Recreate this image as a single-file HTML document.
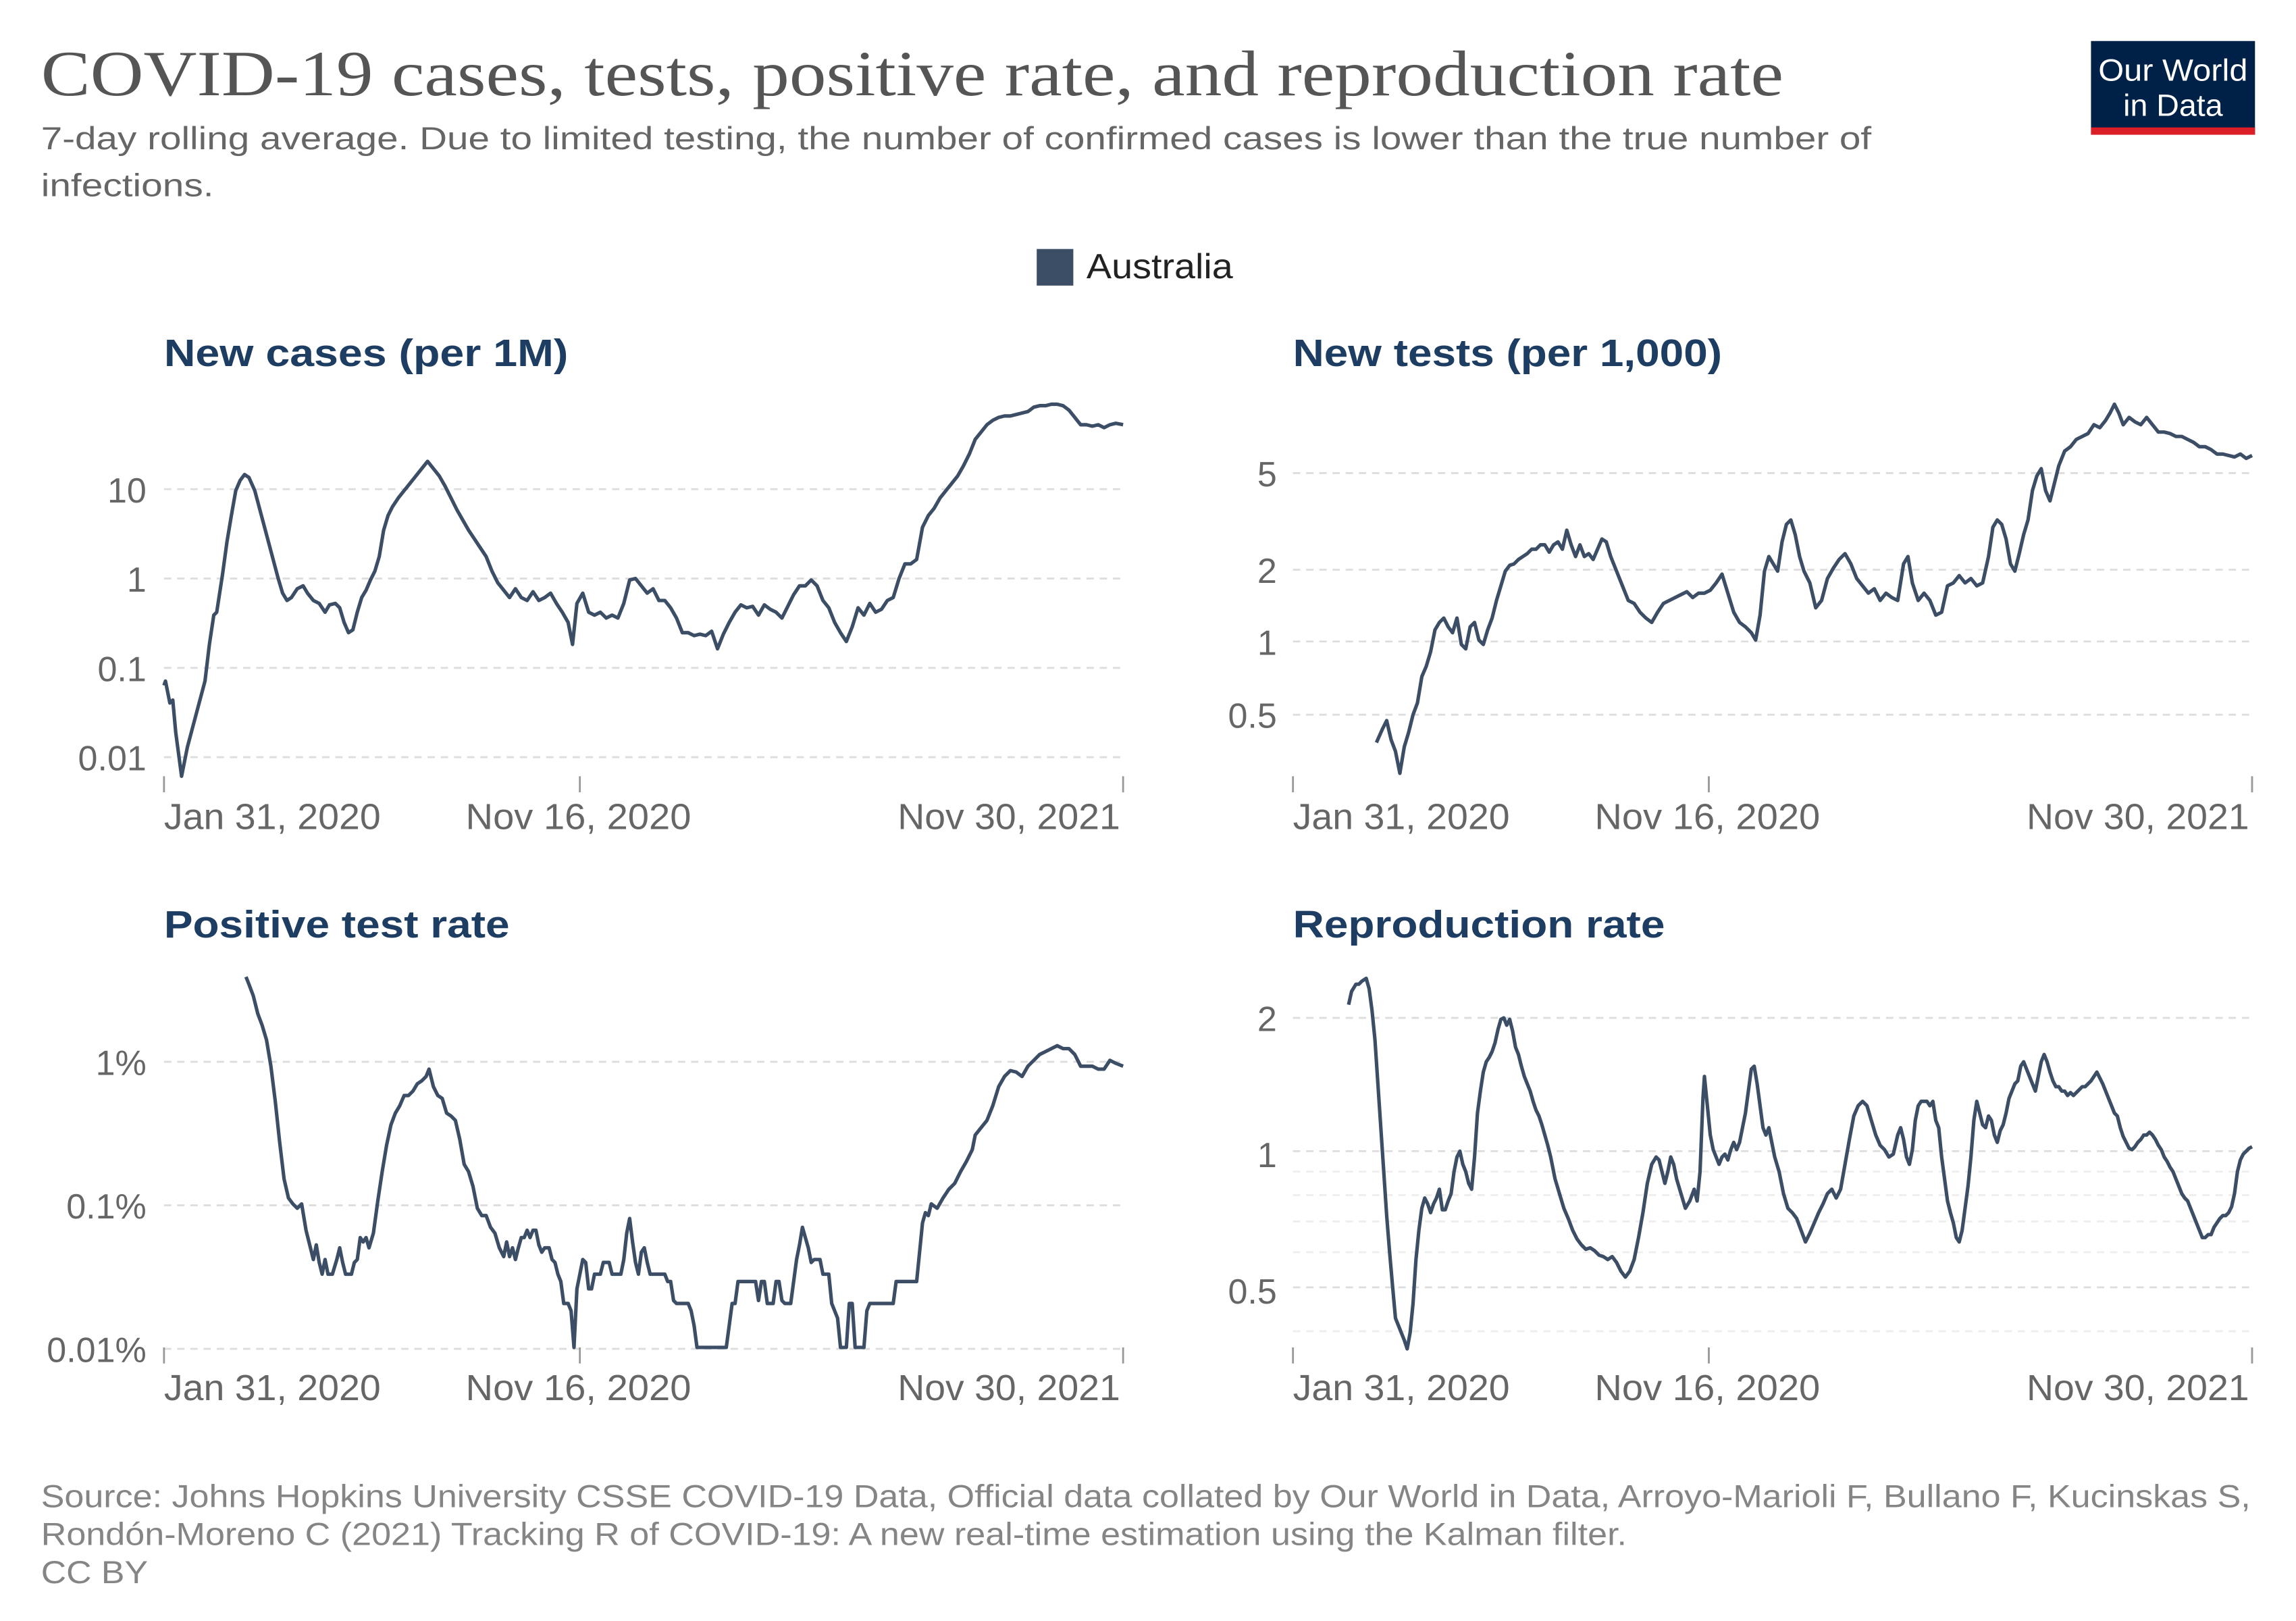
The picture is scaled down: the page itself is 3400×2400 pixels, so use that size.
<!DOCTYPE html>
<html><head><meta charset="utf-8"><style>html,body{margin:0;padding:0;background:#fff}svg{display:block}</style></head>
<body>
<svg width="3400" height="2400" viewBox="0 0 1568 1106.8" xmlns="http://www.w3.org/2000/svg" font-family="Liberation Sans, sans-serif">
<rect width="1568" height="1106.8" fill="#fff"/>
<text x="28" y="65" font-family="Liberation Serif, serif" font-size="44" fill="#555" textLength="1190" lengthAdjust="spacingAndGlyphs">COVID-19 cases, tests, positive rate, and reproduction rate</text>
<text x="28" y="102" font-size="22" fill="#666" textLength="1250" lengthAdjust="spacingAndGlyphs">7-day rolling average. Due to limited testing, the number of confirmed cases is lower than the true number of</text>
<text x="28" y="134" font-size="22" fill="#666" textLength="118" lengthAdjust="spacingAndGlyphs">infections.</text>
<rect x="1428" y="28" width="112" height="64" fill="#002147"/>
<rect x="1428" y="87" width="112" height="5" fill="#dc1f26"/>
<text x="1484" y="55" font-size="21" fill="#fff" text-anchor="middle" textLength="102" lengthAdjust="spacingAndGlyphs">Our World</text>
<text x="1484" y="79" font-size="21" fill="#fff" text-anchor="middle" textLength="68" lengthAdjust="spacingAndGlyphs">in Data</text>
<rect x="708" y="170" width="25" height="25" fill="#3c4e66"/>
<text x="742" y="190" font-size="24" fill="#222" textLength="100" lengthAdjust="spacingAndGlyphs">Australia</text>

<g font-weight="bold" font-size="26" fill="#1d3d63">
<text x="112" y="250" textLength="276" lengthAdjust="spacingAndGlyphs">New cases (per 1M)</text>
<text x="883" y="250" textLength="293" lengthAdjust="spacingAndGlyphs">New tests (per 1,000)</text>
<text x="112" y="640" textLength="236" lengthAdjust="spacingAndGlyphs">Positive test rate</text>
<text x="883" y="640" textLength="254" lengthAdjust="spacingAndGlyphs">Reproduction rate</text>
</g>

<g stroke="#ddd" stroke-width="1.3" stroke-dasharray="5,4">
<line x1="112" x2="767" y1="334" y2="334"/><line x1="112" x2="767" y1="395" y2="395"/><line x1="112" x2="767" y1="456" y2="456"/><line x1="112" x2="767" y1="517" y2="517"/>
<line x1="883" x2="1538" y1="323" y2="323"/><line x1="883" x2="1538" y1="389" y2="389"/><line x1="883" x2="1538" y1="438" y2="438"/><line x1="883" x2="1538" y1="488" y2="488"/>
<line x1="112" x2="767" y1="725" y2="725"/><line x1="112" x2="767" y1="823" y2="823"/><line x1="112" x2="767" y1="921" y2="921"/>
<line x1="883" x2="1538" y1="695" y2="695"/><line x1="883" x2="1538" y1="786" y2="786"/><line x1="883" x2="1538" y1="879" y2="879"/>
</g>
<g stroke="#eee" stroke-width="1.3" stroke-dasharray="5,4">
<line x1="883" x2="1538" y1="800" y2="800"/><line x1="883" x2="1538" y1="816" y2="816"/><line x1="883" x2="1538" y1="834" y2="834"/><line x1="883" x2="1538" y1="855" y2="855"/><line x1="883" x2="1538" y1="909" y2="909"/>
</g>
<g stroke="#999" stroke-width="1.3">
<line x1="112" x2="112" y1="530" y2="541"/><line x1="396" x2="396" y1="530" y2="541"/><line x1="767" x2="767" y1="530" y2="541"/>
<line x1="883" x2="883" y1="530" y2="541"/><line x1="1167" x2="1167" y1="530" y2="541"/><line x1="1538" x2="1538" y1="530" y2="541"/>
<line x1="112" x2="112" y1="920" y2="931"/><line x1="396" x2="396" y1="920" y2="931"/><line x1="767" x2="767" y1="920" y2="931"/>
<line x1="883" x2="883" y1="920" y2="931"/><line x1="1167" x2="1167" y1="920" y2="931"/><line x1="1538" x2="1538" y1="920" y2="931"/>
</g>
<g font-size="24" fill="#666">
<text x="100" y="343" text-anchor="end">10</text><text x="100" y="404" text-anchor="end">1</text><text x="100" y="465" text-anchor="end">0.1</text><text x="100" y="526" text-anchor="end">0.01</text>
<text x="872" y="332" text-anchor="end">5</text><text x="872" y="398" text-anchor="end">2</text><text x="872" y="447" text-anchor="end">1</text><text x="872" y="497" text-anchor="end">0.5</text>
<text x="100" y="734" text-anchor="end">1%</text><text x="100" y="832" text-anchor="end">0.1%</text><text x="100" y="930" text-anchor="end">0.01%</text>
<text x="872" y="704" text-anchor="end">2</text><text x="872" y="797" text-anchor="end">1</text><text x="872" y="890" text-anchor="end">0.5</text>
</g>
<g font-size="25" fill="#666">
<text x="112" y="566" textLength="148" lengthAdjust="spacingAndGlyphs">Jan 31, 2020</text><text x="318" y="566" textLength="154" lengthAdjust="spacingAndGlyphs">Nov 16, 2020</text><text x="613" y="566" textLength="152" lengthAdjust="spacingAndGlyphs">Nov 30, 2021</text>
<text x="883" y="566" textLength="148" lengthAdjust="spacingAndGlyphs">Jan 31, 2020</text><text x="1089" y="566" textLength="154" lengthAdjust="spacingAndGlyphs">Nov 16, 2020</text><text x="1384" y="566" textLength="152" lengthAdjust="spacingAndGlyphs">Nov 30, 2021</text>
<text x="112" y="956" textLength="148" lengthAdjust="spacingAndGlyphs">Jan 31, 2020</text><text x="318" y="956" textLength="154" lengthAdjust="spacingAndGlyphs">Nov 16, 2020</text><text x="613" y="956" textLength="152" lengthAdjust="spacingAndGlyphs">Nov 30, 2021</text>
<text x="883" y="956" textLength="148" lengthAdjust="spacingAndGlyphs">Jan 31, 2020</text><text x="1089" y="956" textLength="154" lengthAdjust="spacingAndGlyphs">Nov 16, 2020</text><text x="1384" y="956" textLength="152" lengthAdjust="spacingAndGlyphs">Nov 30, 2021</text>
</g>

<g fill="none" stroke="#3c4e66" stroke-width="2.4" stroke-linejoin="round">
<polyline points="112,468 113,465 116,480 118,478 120,500 124,530 128,510 132,495 136,480 140,465 143,440 146,420 148,418 150,405 152,392 155,370 158,352 161,335 164,328 167,324 170,326 174,335 178,350 182,365 186,380 190,395 193,405 196,410 199,408 203,402 207,400 210,405 214,410 218,412 222,418 225,413 229,412 232,415 235,425 238,432 241,430 244,418 247,408 250,403 253,396 256,390 259,380 262,362 265,352 268,346 272,340 276,335 280,330 284,325 288,320 292,315 296,320 300,325 304,332 308,340 312,348 316,355 320,362 324,368 328,374 332,380 336,390 340,398 344,403 348,408 352,402 356,408 360,410 364,404 368,410 372,408 376,405 380,412 384,418 388,425 391,440 394,412 398,405 402,418 406,420 410,418 414,422 418,420 422,422 426,412 430,396 434,395 438,400 442,405 446,402 450,410 454,410 458,415 462,422 466,432 470,432 474,434 478,433 482,434 486,431 490,443 494,433 498,425 502,418 506,413 510,415 514,414 518,420 522,413 526,416 530,418 534,422 538,414 542,406 546,400 550,400 554,396 558,400 562,410 566,415 570,425 574,432 578,438 582,428 586,415 590,420 594,412 598,418 602,416 606,410 610,408 614,395 618,385 622,385 626,382 630,360 634,352 638,347 642,340 646,335 650,330 654,325 658,318 662,310 666,300 670,295 674,290 678,287 682,285 686,284 690,284 694,283 698,282 702,281 706,278 710,277 714,277 718,276 722,276 726,277 730,280 734,285 738,290 742,290 746,291 750,290 754,292 758,290 762,289 767,290"/>
<polyline points="940,507 944,498 947,492 950,505 953,513 956,528 959,510 962,500 965,488 968,480 971,462 974,455 977,445 980,430 983,425 986,422 989,428 992,432 995,422 998,440 1001,443 1004,428 1007,425 1010,437 1013,440 1016,430 1019,422 1022,410 1025,400 1028,390 1031,386 1034,385 1037,382 1040,380 1043,378 1046,375 1049,375 1052,372 1055,372 1058,377 1061,372 1064,370 1067,375 1070,362 1073,372 1076,380 1079,372 1082,380 1085,378 1088,382 1091,375 1094,368 1097,370 1100,380 1104,390 1108,400 1112,410 1116,412 1120,418 1124,422 1128,425 1132,418 1136,412 1140,410 1144,408 1148,406 1152,404 1156,408 1160,405 1164,405 1168,403 1172,398 1176,392 1180,405 1184,418 1188,425 1192,428 1196,432 1199,437 1202,420 1205,390 1208,380 1211,385 1214,390 1217,370 1220,358 1223,355 1226,365 1229,380 1232,390 1236,398 1240,415 1244,410 1248,395 1252,388 1256,382 1260,378 1264,385 1268,395 1272,400 1276,405 1280,402 1284,410 1288,405 1292,408 1296,410 1300,385 1303,380 1306,398 1310,410 1314,405 1318,410 1322,420 1326,418 1330,400 1334,398 1338,393 1342,398 1346,395 1350,400 1354,398 1358,380 1361,360 1364,355 1367,358 1370,368 1373,385 1376,390 1379,378 1382,365 1385,355 1388,335 1391,325 1394,320 1397,335 1400,342 1403,330 1406,318 1410,308 1414,305 1418,300 1422,298 1426,296 1430,290 1434,292 1438,287 1441,282 1444,276 1447,282 1450,290 1454,285 1458,288 1462,290 1466,285 1470,290 1474,295 1478,295 1482,296 1486,298 1490,298 1494,300 1498,302 1502,305 1506,305 1510,307 1514,310 1518,310 1522,311 1526,312 1530,310 1534,313 1538,311"/>
<polyline points="168,667 170,672 173,680 176,692 179,700 182,710 185,728 188,752 191,780 194,805 197,818 200,822 203,825 206,822 209,840 212,852 214,860 216,850 218,862 220,870 222,860 224,870 227,870 230,860 232,852 234,862 236,870 240,870 242,862 244,860 246,845 248,848 250,845 252,852 255,842 258,820 261,800 264,782 267,768 270,760 273,755 276,748 279,748 282,745 285,740 288,738 291,735 293,730 296,742 299,748 302,750 305,760 308,762 311,765 314,778 317,795 320,800 323,810 326,825 329,830 332,830 335,838 338,842 341,852 344,858 346,848 348,858 350,852 352,860 354,852 356,845 358,845 360,840 362,845 364,840 366,840 368,850 370,855 372,852 375,852 377,860 379,862 381,870 383,875 385,890 388,890 390,895 392,920 394,880 396,870 398,860 400,862 402,880 404,880 406,870 410,870 412,862 416,862 418,870 424,870 426,860 428,842 430,832 432,848 434,862 436,870 438,855 440,852 442,862 444,870 454,870 456,875 458,875 460,888 462,890 470,890 472,895 474,905 476,920 496,920 498,905 500,890 502,890 504,875 516,875 518,888 520,875 522,875 524,890 528,890 530,875 532,875 534,888 536,890 540,890 542,875 544,860 546,850 548,838 550,845 552,852 554,862 556,860 560,860 562,870 566,870 568,890 570,895 572,900 574,920 578,920 580,890 582,890 584,920 590,920 592,895 594,890 610,890 612,875 626,875 628,855 630,835 632,828 634,830 636,822 640,825 644,818 648,812 652,808 656,800 660,793 664,785 666,775 670,770 674,765 678,755 682,742 686,735 690,731 694,732 698,735 702,728 706,724 710,720 714,718 718,716 722,714 726,716 730,716 734,720 738,728 742,728 746,728 750,730 754,730 758,724 762,726 767,728"/>
<polyline points="921,686 923,677 926,672 928,672 930,670 933,668 935,675 937,690 939,710 941,740 943,770 945,800 947,830 949,855 951,878 953,900 955,905 957,910 959,915 961,921 963,910 965,890 967,860 969,840 971,825 973,818 975,822 977,828 979,822 981,818 983,812 985,826 987,826 989,820 991,815 993,800 995,790 997,786 999,795 1001,800 1003,808 1005,812 1007,790 1009,760 1011,745 1013,732 1015,725 1017,722 1019,718 1021,712 1023,703 1025,696 1027,695 1029,700 1031,696 1033,704 1035,715 1037,720 1039,728 1041,735 1043,740 1045,745 1047,752 1049,758 1051,762 1053,768 1055,775 1057,782 1059,790 1062,805 1065,815 1068,825 1071,832 1074,840 1077,846 1080,850 1083,853 1086,852 1089,854 1092,857 1095,858 1098,860 1101,858 1104,862 1107,868 1110,872 1113,868 1116,860 1119,845 1122,828 1125,808 1128,795 1131,790 1133,792 1135,800 1137,808 1139,800 1141,790 1143,795 1145,805 1148,815 1151,825 1154,820 1157,812 1159,820 1161,800 1163,750 1164,735 1166,755 1168,775 1170,785 1172,790 1174,795 1176,790 1178,788 1180,792 1182,785 1184,780 1186,785 1188,780 1190,770 1192,760 1194,745 1196,730 1198,728 1200,740 1202,755 1204,770 1206,775 1208,770 1210,780 1212,790 1215,800 1218,815 1221,825 1224,828 1227,832 1230,840 1233,848 1236,842 1239,835 1242,828 1245,822 1248,815 1251,812 1254,818 1257,812 1260,795 1263,778 1266,762 1269,755 1272,752 1275,755 1278,765 1281,775 1284,782 1287,785 1290,790 1293,788 1296,775 1298,770 1300,778 1302,790 1304,795 1306,785 1308,765 1310,755 1312,752 1316,752 1318,755 1320,752 1322,765 1324,770 1326,790 1328,805 1330,820 1332,828 1334,835 1336,845 1338,848 1340,840 1342,825 1344,810 1346,790 1348,765 1350,752 1352,760 1354,768 1356,770 1358,762 1360,765 1362,775 1364,780 1366,772 1368,768 1370,760 1372,750 1374,745 1376,740 1378,738 1380,728 1382,725 1384,730 1386,735 1388,740 1390,745 1392,735 1394,725 1396,720 1398,725 1400,732 1402,738 1404,742 1406,742 1408,745 1410,745 1412,748 1414,746 1416,748 1418,746 1420,744 1422,742 1424,742 1426,740 1428,738 1430,735 1432,732 1434,736 1436,740 1438,745 1440,750 1442,755 1444,760 1446,762 1448,770 1450,776 1452,780 1454,784 1456,785 1458,783 1460,780 1462,778 1464,775 1466,775 1468,773 1470,775 1472,778 1474,782 1476,785 1478,790 1480,793 1482,797 1484,800 1486,805 1488,810 1490,815 1492,818 1494,820 1496,825 1498,830 1500,835 1502,840 1504,845 1506,845 1508,843 1510,843 1512,838 1514,835 1516,832 1518,830 1520,830 1522,828 1524,824 1526,815 1528,800 1530,792 1532,788 1534,786 1536,784 1538,783"/>
</g>

<g font-size="22" fill="#858585">
<text x="28" y="1029" textLength="1509" lengthAdjust="spacingAndGlyphs">Source: Johns Hopkins University CSSE COVID-19 Data, Official data collated by Our World in Data, Arroyo-Marioli F, Bullano F, Kucinskas S,</text>
<text x="28" y="1055" textLength="1083" lengthAdjust="spacingAndGlyphs">Rondón-Moreno C (2021) Tracking R of COVID-19: A new real-time estimation using the Kalman filter.</text>
<text x="28" y="1081" textLength="73" lengthAdjust="spacingAndGlyphs">CC BY</text>
</g>
</svg>
</body></html>
